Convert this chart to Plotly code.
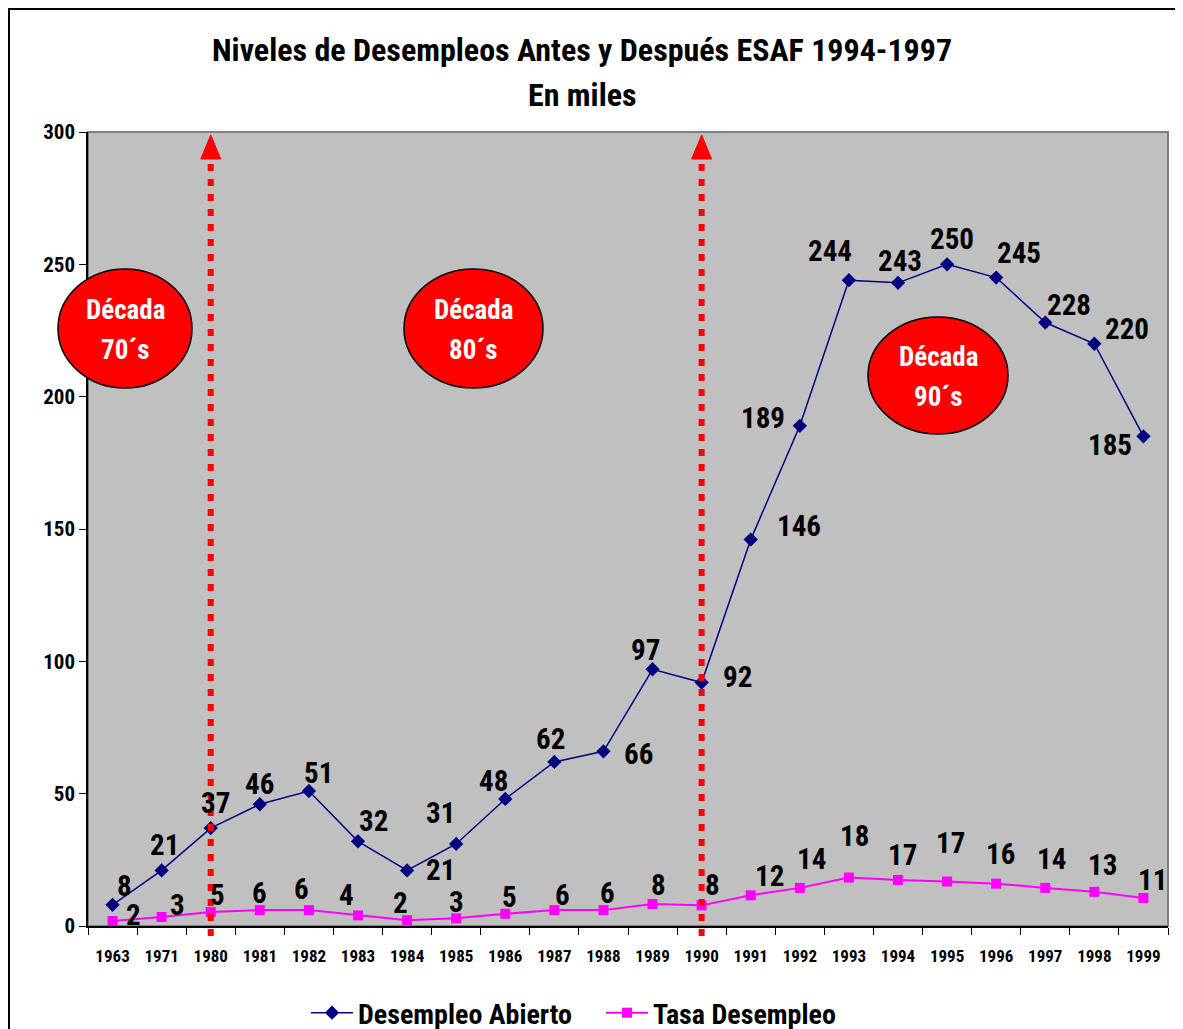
import plotly.graph_objects as go

years = ["1963", "1971", "1980", "1981", "1982", "1983", "1984", "1985", "1986", "1987", "1988",
         "1989", "1990", "1991", "1992", "1993", "1994", "1995", "1996", "1997", "1998", "1999"]
desempleo_abierto = [8, 21, 37, 46, 51, 32, 21, 31, 48, 62, 66, 97, 92, 146, 189, 244, 243, 250, 245, 228, 220, 185]
tasa_desempleo = [1.9, 3.4, 5.3, 6.0, 6.0, 4.0, 2.2, 2.9, 4.6, 6.0, 6.0, 8.3, 7.8, 11.6, 14.4, 18.3, 17.4, 16.8, 16.0, 14.4, 12.9, 10.6]
decade_marks = ["1980", "1990"]

# posiciones manuales de las etiquetas (px), como en el original de Excel
blue_off = [(12, -19), (3, -25), (5, -25), (0, -20), (10, -18), (15, -20), (33, 0), (-16, -31),
            (-12, -18), (-4, -23), (35, 3), (-7, -19), (36, -6), (48, -14), (-37, -8), (-19, -29),
            (2, -22), (5, -25), (23, -25), (24, -18), (33, -15), (-33, 9)]
pink_off = [(21, -6), (16, -12), (7, -17), (0, -17), (-7, -21), (-12, -20), (-7, -17), (0, -16),
            (4, -17), (8, -15), (4, -17), (6, -19), (11, -20), (19, -19), (12, -29), (6, -42),
            (4, -25), (3, -39), (4, -30), (6, -29), (8, -27), (9, -18)]

FONT = "Roboto Condensed, Open Sans Condensed, DejaVu Sans Condensed, sans-serif"
OFF = 8  # margen del body de la pagina
W, H = 1183 - OFF, 1029 - OFF
L, T = 88 - OFF, 132 - OFF
PW, PH = 1080, 794
R, B = W - L - PW, H - T - PH

def px(x):
    return (x - OFF - L) / PW

def py(y):
    return (H - B - (y - OFF)) / PH

def bold(size, color="black"):
    return dict(family=FONT, size=size, color=color, weight="bold")

fig = go.Figure()
fig.add_trace(go.Scatter(
    x=years, y=desempleo_abierto, name="Desempleo Abierto", mode="lines+markers",
    line=dict(color="#000080", width=1.5),
    marker=dict(symbol="diamond", size=11, color="#000080"),
    cliponaxis=False,
))
fig.add_trace(go.Scatter(
    x=years, y=tasa_desempleo, name="Tasa Desempleo", mode="lines+markers",
    line=dict(color="#FF00FF", width=2),
    marker=dict(symbol="square", size=10, color="#FF00FF"),
    cliponaxis=False,
))

anns = []
for i, yr in enumerate(years):
    dx, dy = blue_off[i]
    anns.append(dict(x=i, y=desempleo_abierto[i], text=str(round(desempleo_abierto[i])),
                     showarrow=False, xshift=dx, yshift=-dy, xanchor="center", yanchor="middle",
                     font=bold(29)))
    dx, dy = pink_off[i]
    anns.append(dict(x=i, y=tasa_desempleo[i], text=str(round(tasa_desempleo[i])),
                     showarrow=False, xshift=dx, yshift=-dy, xanchor="center", yanchor="middle",
                     font=bold(29)))

# titulo
anns.append(dict(xref="paper", yref="paper", x=px(582), y=py(50), showarrow=False,
                 xanchor="center", yanchor="middle",
                 text="Niveles de Desempleos Antes y Después ESAF 1994-1997", font=bold(32)))
anns.append(dict(xref="paper", yref="paper", x=px(582), y=py(95), showarrow=False,
                 xanchor="center", yanchor="middle", text="En miles", font=bold(32)))

shapes = []
# marco exterior (solo borde izquierdo y superior quedan visibles)
shapes.append(dict(type="path", xref="paper", yref="paper",
                   path=f"M {px(OFF + 1)} {py(1040)} L {px(OFF + 1)} {py(OFF + 1)} L {px(1190)} {py(OFF + 1)}",
                   line=dict(color="black", width=2), layer="below"))
# borde del area de trazado
shapes.append(dict(type="rect", xref="paper", yref="paper", x0=0, y0=0, x1=1, y1=1,
                   line=dict(color="#808080", width=2), layer="below"))

# flechas punteadas de decada
for yr in decade_marks:
    xc = (years.index(yr) + 0.5) / len(years)
    shapes.append(dict(type="line", xref="paper", yref="paper", x0=xc, x1=xc, y0=py(936), y1=py(158),
                       line=dict(color="#FF0000", width=6, dash="7px,8px")))
    hw = 10 / PW
    shapes.append(dict(type="path", xref="paper", yref="paper",
                       path=f"M {xc - hw} {py(159)} L {xc + hw} {py(159)} L {xc} {py(135)} Z",
                       fillcolor="#FF0000", line=dict(color="#FF0000", width=1)))

# elipses
ellipses = [("70´s", 58, 192, 269, 388), ("80´s", 404, 543, 269, 388), ("90´s", 868, 1008, 317, 434)]
for lab, x0, x1, y0, y1 in ellipses:
    shapes.append(dict(type="circle", xref="paper", yref="paper", x0=px(x0), x1=px(x1), y0=py(y1), y1=py(y0),
                       fillcolor="#FF0000", line=dict(color="black", width=1.5)))
    cx = (x0 + x1) / 2
    cy = (y0 + y1) / 2
    anns.append(dict(xref="paper", yref="paper", x=px(cx), y=py(cy - 19), showarrow=False, text="Década",
                     xanchor="center", yanchor="middle", font=bold(27, "white")))
    anns.append(dict(xref="paper", yref="paper", x=px(cx), y=py(cy + 21), showarrow=False, text=lab,
                     xanchor="center", yanchor="middle", font=bold(27, "white")))

fig.update_layout(
    width=W, height=H,
    margin=dict(l=L, r=R, t=T, b=B, autoexpand=False),
    paper_bgcolor="white", plot_bgcolor="#C0C0C0",
    showlegend=True,
    legend=dict(orientation="h", x=px(306), xanchor="left", y=py(1013), yanchor="middle",
                font=bold(28), bgcolor="rgba(0,0,0,0)", itemwidth=42, entrywidth=238),
    annotations=anns, shapes=shapes,
)
fig.update_xaxes(type="category", range=[-0.5, len(years) - 0.5], showgrid=False,
                 showline=True, linecolor="black", linewidth=1.5, tickangle=0,
                 ticks="outside", tickson="boundaries", ticklen=7, tickcolor="black",
                 ticklabelstandoff=14, tickfont=bold(17))
fig.update_yaxes(range=[0, 300], dtick=50, showgrid=False, zeroline=False,
                 showline=True, linecolor="black", linewidth=1.5,
                 ticks="outside", ticklen=7, tickcolor="black",
                 tickfont=bold(21))

fig.write_html("out.html")
